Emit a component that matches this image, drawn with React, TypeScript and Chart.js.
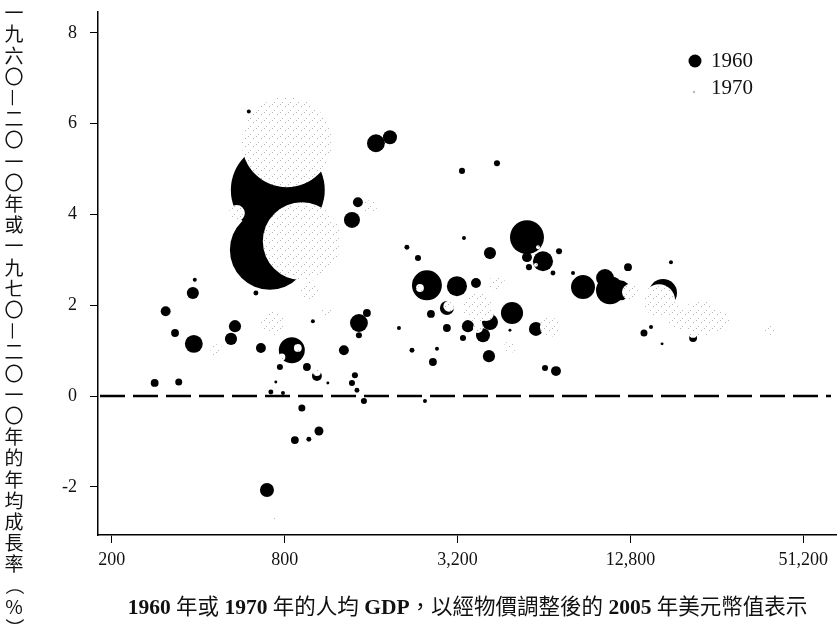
import React, { useEffect, useRef } from 'react';
import { Chart, registerables } from 'chart.js';

Chart.register(...registerables);

// Axis ticks and ranges
const X_TICKS = [200, 800, 3200, 12800, 51200];
const Y_TICKS = [-2, 0, 2, 4, 6, 8];
const X_RANGE = [179, 67100];
const Y_RANGE = [-3.06, 8.46];

// Titles and legend
const X_TITLE = '1960 年或 1970 年的人均 GDP，以經物價調整後的 2005 年美元幣值表示';
const Y_TITLE = '一九六〇—二〇一〇年或一九七〇—二〇一〇年的年均成長率（%）';
const SERIES_NAMES = ['1960', '1970'];

// 1960 series: GDP per head (2005 $), growth 1960-2010 (%), population (millions)
const GDP_1960 = [
  757, 710, 282, 308, 332, 342, 386, 383, 389, 537, 520, 635, 661, 847, 770, 956,
  1036, 745, 1131, 716, 789, 918, 1053, 868, 971, 694, 600, 1003, 1286, 1663, 1861, 3316,
  4390, 1439, 1372, 2132, 2330, 3369, 4150, 2503, 3184, 3709, 5584, 5584, 6348, 7220, 5674, 6878,
  8078, 8750, 10868, 10440, 11780, 12554, 17720, 16620, 14270, 15100, 16500, 21160, 1547, 1451, 1451, 2000,
  2585, 2938, 2938, 3478, 4150, 4952, 3924, 3342, 4872, 6000, 2220, 2713, 4116, 2626, 6454, 7046,
  1405, 1372, 1428, 1510, 2464,
];
const GROWTH_1960 = [
  4.54, 3.22, 0.29, 1.87, 1.39, 0.31, 1.15, 2.27, 2.56, 1.54, 1.26, 2.27, 1.06, 1.01, 0.64, 0.64,
  0.44, 0.31, 0.29, 0.09, 0.07, -0.26, -0.77, -0.97, -0.95, -2.07, 6.27, 1.65, 1.01, 5.57, 5.7, 4.96,
  5.13, 4.27, 3.88, 3.28, 3.04, 3.48, 3.15, 2.44, 2.42, 2.49, 3.5, 3.06, 2.97, 3.19, 2.84, 2.71,
  2.71, 2.4, 2.33, 2.6, 2.33, 2.84, 2.95, 2.27, 1.39, 1.52, 1.15, 1.28, 1.83, 1.61, 1.34, 1.5,
  1.81, 1.94, 1.5, 1.54, 1.63, 1.83, 1.34, 1.28, 1.45, 1.48, 1.01, 1.04, 0.88, 0.75, 0.62, 0.55,
  0.46, 0.29, 0.13, -0.11, -0.11,
];
const POP_1960 = [
  720, 520, 5, 8, 5, 4, 26, 12, 1.3, 12, 12, 2, 8, 55, 3, 5,
  8, 0.7, 0.7, 2, 1.3, 4, 6.6, 5, 2, 16, 1.3, 1.3, 8, 26, 16, 3,
  3, 8, 21, 2, 3, 1.3, 12, 73, 33, 8, 94, 8, 33, 3, 3, 2,
  1.3, 47, 64, 26, 33, 5, 1.3, 64, 4, 1.3, 0.7, 5, 5, 26, 3, 1.3,
  5, 16, 5, 12, 21, 40, 16, 3, 0.7, 16, 2, 1.3, 12, 5, 3, 8,
  3, 3, 2, 3, 1.3,
];

// 1970 series: GDP per head (2005 $), growth 1970-2010 (%), population (millions)
const GDP_1970 = [
  814, 918, 889, 2367, 2986, 4020, 16100, 21160, 1036, 6100, 6000, 545, 727, 464, 979, 1122,
  3740, 4390, 6714, 1178, 1585, 4872, 22380, 26260, 12760, 745, 39230, 3768, 19060, 782,
];
const GROWTH_1970 = [
  5.59, 3.41, 1.06, 2.38, 1.98, 1.83, 2.11, 1.37, 0.53, 3.28, 2.89, 4.03, 1.61, 1.01, 2.33, 1.83,
  1.96, 2.49, 1.52, 3.37, 4.16, 1.08, 1.72, 1.63, 2.29, -2.71, 1.45, 1.5, 1.72, 0.86,
];
const POP_1970 = [
  661, 497, 5, 5, 10, 21, 84, 5, 5, 1.3, 1.3, 21, 47, 12, 33, 12,
  73, 21, 33, 12, 16, 12, 106, 33, 21, 3, 12, 8, 47, 4,
];

const BUBBLE_SCALE = 1.75;

function toPoints(gdp: number[], growth: number[], pop: number[]) {
  return gdp.map((x, i) => ({ x, y: growth[i], r: Math.sqrt(pop[i]) * BUBBLE_SCALE }));
}

function zeroPad(scale: any) {
  scale.paddingTop = 0;
  scale.paddingBottom = 0;
  scale.paddingLeft = 0;
  scale.paddingRight = 0;
}

export default function App() {
  const ref = useRef<HTMLCanvasElement>(null);

  useEffect(() => {
    const canvas = ref.current;
    if (!canvas) return;
    const ctx0 = canvas.getContext('2d')!;

    const tile = document.createElement('canvas');
    tile.width = 8;
    tile.height = 8;
    const tctx = tile.getContext('2d')!;
    tctx.fillStyle = '#ffffff';
    tctx.fillRect(0, 0, 8, 8);
    tctx.fillStyle = '#b4b4b4';
    [[0, 0], [5, 2], [2, 6]].forEach(([a, b]) => tctx.fillRect(a, b, 1, 1));
    const stipple = ctx0.createPattern(tile, 'repeat') as CanvasPattern;

    const decor = {
      id: 'decor',
      afterDatasetsDraw(chart: any) {
        const { ctx, chartArea, scales } = chart;
        const y0 = scales.y.getPixelForValue(0);
        ctx.save();
        ctx.beginPath();
        ctx.setLineDash([25, 8]);
        ctx.lineWidth = 2.5;
        ctx.strokeStyle = '#000';
        ctx.moveTo(chartArea.left + 2, y0);
        ctx.lineTo(chartArea.right - 6, y0);
        ctx.stroke();
        ctx.restore();
      },
      afterDraw(chart: any) {
        const { ctx } = chart;
        ctx.save();
        // Legend
        ctx.fillStyle = '#000';
        ctx.beginPath();
        ctx.arc(695, 61, 6.5, 0, Math.PI * 2);
        ctx.fill();
        ctx.fillStyle = '#bbb';
        ctx.beginPath();
        ctx.arc(694, 92, 1.2, 0, Math.PI * 2);
        ctx.fill();
        ctx.fillStyle = '#111';
        ctx.font = '21px "Liberation Serif"';
        ctx.textAlign = 'left';
        ctx.textBaseline = 'middle';
        ctx.fillText(SERIES_NAMES[0], 711, 61);
        ctx.fillText(SERIES_NAMES[1], 711, 88);

        // X title (mixed runs)
        const runs: string[] = X_TITLE.match(/[\x00-\x7F]+|[^\x00-\x7F]+/g) || [];
        const fontFor = (s: string) =>
          /^[\x00-\x7F]+$/.test(s) ? 'bold 21.5px "Liberation Serif"' : '21.5px "Noto Sans CJK TC"';
        let total = 0;
        const widths = runs.map((s) => {
          ctx.font = fontFor(s);
          const w = ctx.measureText(s).width;
          total += w;
          return w;
        });
        let x = (chart.chartArea.left + chart.chartArea.right) / 2 - total / 2;
        ctx.textBaseline = 'alphabetic';
        ctx.fillStyle = '#111';
        runs.forEach((s, i) => {
          ctx.font = fontFor(s);
          ctx.fillText(s, x, 614);
          x += widths[i];
        });

        // Y title (vertical, upright)
        const chars = Array.from(Y_TITLE);
        ctx.font = '19px "Noto Sans CJK TC"';
        ctx.textAlign = 'center';
        ctx.textBaseline = 'middle';
        chars.forEach((c, i) => {
          const cy = 13 + i * 21.2;
          ctx.save();
          ctx.translate(14, cy);
          if (c === '—' || c === '（' || c === '）') ctx.rotate(Math.PI / 2);
          ctx.fillText(c, 0, 0);
          ctx.restore();
        });
        ctx.restore();
      },
    };

    const chart = new Chart(canvas, {
      type: 'bubble',
      data: {
        datasets: [
          {
            label: SERIES_NAMES[0],
            data: toPoints(GDP_1960, GROWTH_1960, POP_1960),
            backgroundColor: '#000',
            borderWidth: 0,
            order: 1,
          },
          {
            label: SERIES_NAMES[1],
            data: toPoints(GDP_1970, GROWTH_1970, POP_1970),
            backgroundColor: stipple,
            borderWidth: 0,
            order: 0,
          },
        ],
      },
      options: {
        responsive: false,
        animation: false,
        devicePixelRatio: 1,
        events: [],
        layout: { autoPadding: false, padding: { top: 12, left: 0, right: 0, bottom: 0 } },
        plugins: {
          legend: { display: false },
          tooltip: { enabled: false },
          title: { display: false },
        },
        scales: {
          x: {
            type: 'logarithmic',
            min: X_RANGE[0],
            max: X_RANGE[1],
            afterBuildTicks: (axis: any) => {
              axis.ticks = X_TICKS.map((v) => ({ value: v }));
            },
            afterFit: (scale: any) => {
              scale.height = 97;
              zeroPad(scale);
            },
            ticks: {
              autoSkip: false,
              maxRotation: 0,
              padding: 6,
              color: '#111',
              font: { family: '"Liberation Serif"', size: 18 },
              callback: (v: any) => Number(v).toLocaleString('en-US'),
            },
            grid: { display: true, drawOnChartArea: false, drawTicks: true, tickLength: 8, color: '#000', lineWidth: 1 },
            border: { display: true, color: '#000', width: 1.5 },
          },
          y: {
            type: 'linear',
            min: Y_RANGE[0],
            max: Y_RANGE[1],
            afterBuildTicks: (axis: any) => {
              axis.ticks = Y_TICKS.map((v) => ({ value: v }));
            },
            afterFit: (scale: any) => {
              scale.width = 98;
              zeroPad(scale);
            },
            ticks: {
              autoSkip: false,
              padding: 13,
              color: '#111',
              font: { family: '"Liberation Serif"', size: 18 },
            },
            grid: { display: true, drawOnChartArea: false, drawTicks: true, tickLength: 8, color: '#000', lineWidth: 1 },
            border: { display: true, color: '#000', width: 1.5 },
          },
        },
      },
      plugins: [decor],
    } as any);

    return () => chart.destroy();
  }, []);

  return (
    <div style={{ position: 'absolute', left: 0, top: 0, width: 837, height: 632, background: '#fff' }}>
      <canvas ref={ref} width={837} height={632} style={{ display: 'block' }} />
    </div>
  );
}
